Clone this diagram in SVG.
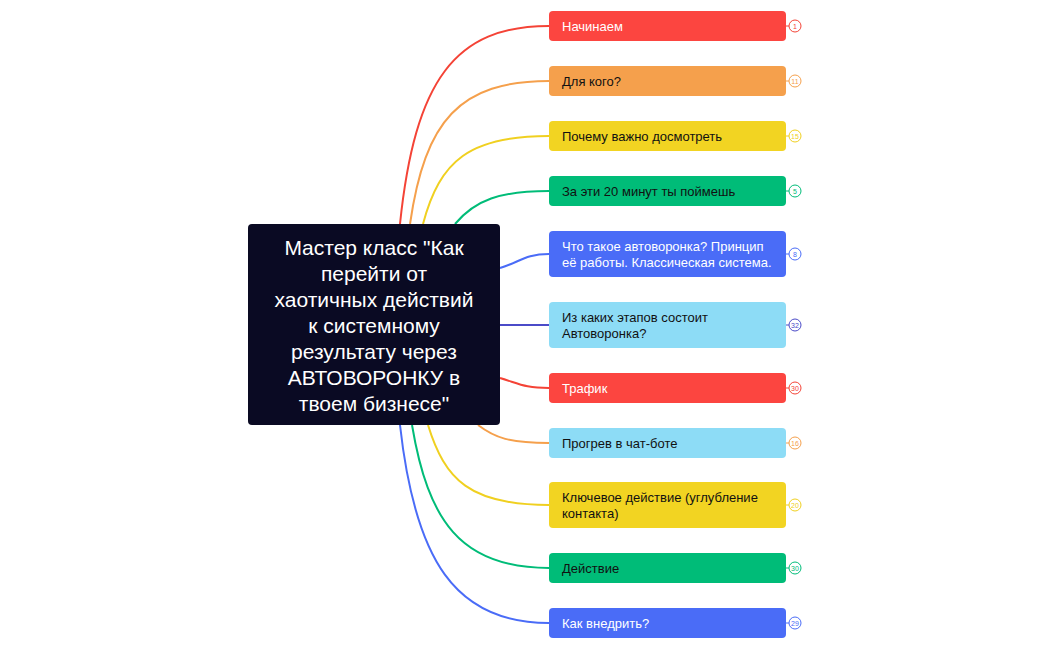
<svg xmlns="http://www.w3.org/2000/svg" width="1050" height="650" viewBox="0 0 1050 650">
<style>
.n{stroke:none}
.t{font-family:"Liberation Sans",Arial,sans-serif;font-size:13px}
.w{fill:#fff}.b{fill:#111}
.c{fill:none;stroke-width:2}
.cn{fill:#fff;stroke-width:1}
.ct{font-family:"Liberation Sans",Arial,sans-serif;font-size:7px;text-anchor:middle}
.m{font-family:"Liberation Sans",Arial,sans-serif;font-size:21px;fill:#fff;text-anchor:middle}
</style>
<rect width="1050" height="650" fill="#fff"/>
<g id="connectors">
<path class="c" stroke="#f44336" d="M400,224 C415,80 455,26 549,26"/>
<path class="c" stroke="#f5a04c" d="M410,224 C425,120 460,81 549,81"/>
<path class="c" stroke="#f0d020" d="M423,224 C440,160 470,136 549,136"/>
<path class="c" stroke="#00bc78" d="M455,224 C475,200 500,191 549,191"/>
<path class="c" stroke="#4a6cf7" d="M500,268 C520,262 525,254 549,254"/>
<path class="c" stroke="#4b4bc8" d="M500,325 L549,325"/>
<path class="c" stroke="#f44336" d="M500,378 C520,384 525,388 549,388"/>
<path class="c" stroke="#f5a04c" d="M478,425 C495,438 510,443 549,443"/>
<path class="c" stroke="#f0d020" d="M428,425 C445,480 470,505 549,505"/>
<path class="c" stroke="#00bc78" d="M412,425 C428,520 460,568 549,568"/>
<path class="c" stroke="#4a6cf7" d="M400,425 C415,560 455,623 549,623"/>
<g>
<line x1="786" y1="26" x2="789" y2="26" stroke="#f44336"/><circle class="cn" cx="795" cy="26" r="6" stroke="#f44336"/><text class="ct" x="795" y="28.5" fill="#f44336">1</text>
<line x1="786" y1="81" x2="789" y2="81" stroke="#f5a04c"/><circle class="cn" cx="795" cy="81" r="6" stroke="#f5a04c"/><text class="ct" x="795" y="83.5" fill="#f5a04c">11</text>
<line x1="786" y1="136" x2="789" y2="136" stroke="#f0d020"/><circle class="cn" cx="795" cy="136" r="6" stroke="#f0d020"/><text class="ct" x="795" y="138.5" fill="#f0d020">15</text>
<line x1="786" y1="191" x2="789" y2="191" stroke="#00bc78"/><circle class="cn" cx="795" cy="191" r="6" stroke="#00bc78"/><text class="ct" x="795" y="193.5" fill="#00bc78">5</text>
<line x1="786" y1="254" x2="789" y2="254" stroke="#4a6cf7"/><circle class="cn" cx="795" cy="254" r="6" stroke="#4a6cf7"/><text class="ct" x="795" y="256.5" fill="#4a6cf7">8</text>
<line x1="786" y1="325" x2="789" y2="325" stroke="#4b4bc8"/><circle class="cn" cx="795" cy="325" r="6" stroke="#4b4bc8"/><text class="ct" x="795" y="327.5" fill="#4b4bc8">32</text>
<line x1="786" y1="388" x2="789" y2="388" stroke="#f44336"/><circle class="cn" cx="795" cy="388" r="6" stroke="#f44336"/><text class="ct" x="795" y="390.5" fill="#f44336">30</text>
<line x1="786" y1="443" x2="789" y2="443" stroke="#f5a04c"/><circle class="cn" cx="795" cy="443" r="6" stroke="#f5a04c"/><text class="ct" x="795" y="445.5" fill="#f5a04c">16</text>
<line x1="786" y1="505" x2="789" y2="505" stroke="#f0d020"/><circle class="cn" cx="795" cy="505" r="6" stroke="#f0d020"/><text class="ct" x="795" y="507.5" fill="#f0d020">20</text>
<line x1="786" y1="568" x2="789" y2="568" stroke="#00bc78"/><circle class="cn" cx="795" cy="568" r="6" stroke="#00bc78"/><text class="ct" x="795" y="570.5" fill="#00bc78">30</text>
<line x1="786" y1="623" x2="789" y2="623" stroke="#4a6cf7"/><circle class="cn" cx="795" cy="623" r="6" stroke="#4a6cf7"/><text class="ct" x="795" y="625.5" fill="#4a6cf7">29</text>
</g>
</g>
<g id="root">
<rect x="248" y="224" width="252" height="201" rx="4" fill="#0a0a23"/>
<text class="m" x="374" y="255">Мастер класс "Как</text>
<text class="m" x="374" y="281">перейти от</text>
<text class="m" x="374" y="307">хаотичных действий</text>
<text class="m" x="374" y="333">к системному</text>
<text class="m" x="374" y="359">результату через</text>
<text class="m" x="374" y="385">АВТОВОРОНКУ в</text>
<text class="m" x="374" y="411">твоем бизнесе"</text>
</g>
<g id="n1"><rect x="549" y="11" width="237" height="30" rx="4" fill="#fc4540"/><text class="t w" x="562" y="31">Начинаем</text></g>
<g id="n2"><rect x="549" y="66" width="237" height="30" rx="4" fill="#f5a04c"/><text class="t b" x="562" y="86">Для кого?</text></g>
<g id="n3"><rect x="549" y="121" width="237" height="30" rx="4" fill="#f2d422"/><text class="t b" x="562" y="141">Почему важно досмотреть</text></g>
<g id="n4"><rect x="549" y="176" width="237" height="30" rx="4" fill="#00bc78"/><text class="t b" x="562" y="196">За эти 20 минут ты поймешь</text></g>
<g id="n5"><rect x="549" y="231" width="237" height="46" rx="4" fill="#4a6cf7"/><text class="t w" x="562" y="251">Что такое автоворонка? Принцип</text><text class="t w" x="562" y="267">её работы. Классическая система.</text></g>
<g id="n6"><rect x="549" y="302" width="237" height="46" rx="4" fill="#8ddcf6"/><text class="t b" x="562" y="322">Из каких этапов состоит</text><text class="t b" x="562" y="338">Автоворонка?</text></g>
<g id="n7"><rect x="549" y="373" width="237" height="30" rx="4" fill="#fc4540"/><text class="t w" x="562" y="393">Трафик</text></g>
<g id="n8"><rect x="549" y="428" width="237" height="30" rx="4" fill="#8ddcf6"/><text class="t b" x="562" y="448">Прогрев в чат-боте</text></g>
<g id="n9"><rect x="549" y="482" width="237" height="46" rx="4" fill="#f2d422"/><text class="t b" x="562" y="502">Ключевое действие (углубление</text><text class="t b" x="562" y="518">контакта)</text></g>
<g id="n10"><rect x="549" y="553" width="237" height="30" rx="4" fill="#00bc78"/><text class="t b" x="562" y="573">Действие</text></g>
<g id="n11"><rect x="549" y="608" width="237" height="30" rx="4" fill="#4a6cf7"/><text class="t w" x="562" y="628">Как внедрить?</text></g>
</svg>
